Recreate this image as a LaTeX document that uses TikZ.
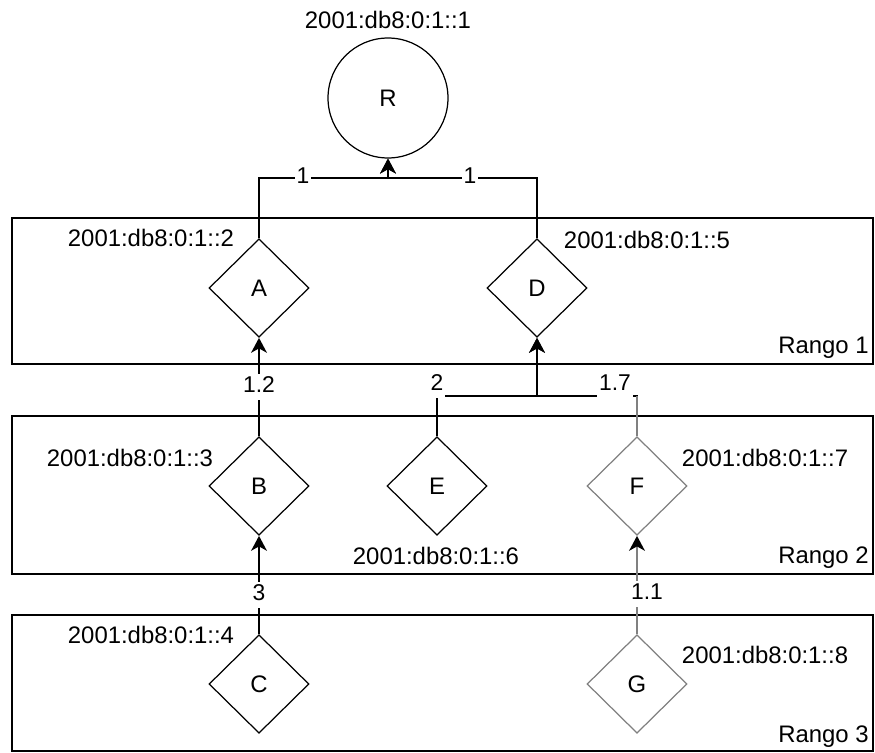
\documentclass[tikz,border=0pt]{standalone}
\usepackage{fontspec}
\setmainfont{Liberation Sans}
\usetikzlibrary{shapes.geometric,arrows.meta}
\tikzset{
  nodo/.style={draw,shape=diamond,aspect=1,minimum width=2cm,minimum height=1.97cm,
    inner sep=0pt,line width=0.7pt,font=\fontsize{13.6}{16}\selectfont},
  nodogris/.style={nodo,draw=black!50},
  rango/.style={draw,line width=0.9pt},
  dir/.style={inner sep=0pt,font=\fontsize{13.6}{16}\selectfont},
  peso/.style={fill=white,inner sep=1pt,text height=9.5pt,text depth=3pt,
    font=\fontsize{13}{15}\selectfont},
  enlace/.style={line width=0.95pt,-{Stealth[length=8.5pt,width=9pt,inset=2.5pt,color=black]}},
  enlacegris/.style={enlace,draw=black!50}
}
\begin{document}
\begin{tikzpicture}[x=0.02cm,y=-0.02cm]
  \useasboundingbox (0,0) rectangle (875,753);
  % rangos
  \draw[rango] (12,218) rectangle (873,364);
  \draw[rango] (12,416) rectangle (873,574);
  \draw[rango] (12,615) rectangle (873,751);
  \node[dir,anchor=base east] (r1) at (869,353) {Rango 1};
  \node[dir,anchor=base east] (r2) at (869,563) {Rango 2};
  \node[dir,anchor=base east] (r3) at (869,742) {Rango 3};
  % nodos
  \node[draw,circle,line width=0.7pt,minimum size=2.4cm,inner sep=0pt,
    font=\fontsize{13.6}{16}\selectfont] (R) at (388,98) {R};
  \node[nodo] (A) at (259,288) {A};
  \node[nodo] (D) at (537,288) {D};
  \node[nodo] (B) at (259,486) {B};
  \node[nodo] (E) at (437,486) {E};
  \node[nodogris] (F) at (637,486) {F};
  \node[nodo] (C) at (259,684) {C};
  \node[nodogris] (G) at (637,684) {G};
  % direcciones
  \node[dir] (dR) at (388,20) {2001:db8:0:1::1};
  \node[dir] (dA) at (151,238) {2001:db8:0:1::2};
  \node[dir] (dD) at (647,240) {2001:db8:0:1::5};
  \node[dir] (dB) at (130,458) {2001:db8:0:1::3};
  \node[dir] (dE) at (436,556) {2001:db8:0:1::6};
  \node[dir] (dF) at (765,458) {2001:db8:0:1::7};
  \node[dir] (dC) at (151,635) {2001:db8:0:1::4};
  \node[dir] (dG) at (765,655) {2001:db8:0:1::8};
  % enlaces
  \coordinate (jR) at (388,178);
  \coordinate (jD) at (537,396);
  \draw[enlace] (A.north) |- (jR) -- (R.south);
  \draw[enlace] (D.north) |- (jR) -- (R.south);
  \draw[enlace] (B.north) -- (A.south);
  \draw[enlace] (F.north) |- (jD) -- (D.south);
  \draw[line width=0.95pt,black!50] (F.north) -- (F.north |- jD);
  \draw[enlace] (E.north) |- (jD) -- (D.south);
  \draw[enlace] (C.north) -- (B.south);
  \draw[enlacegris] (G.north) -- (F.south);
  % pesos
  \node[peso] (pAR) at (303,178) {1};
  \node[peso] (pDR) at (470,178) {1};
  \node[peso] (pBA) at (259,387) {1.2};
  \node[peso] (pED) at (437,385) {2};
  \node[peso] (pFD) at (615,385) {1.7};
  \node[peso] (pCB) at (259,595) {3};
  \node[peso] (pGF) at (647,594) {1.1};
\end{tikzpicture}
\end{document}
